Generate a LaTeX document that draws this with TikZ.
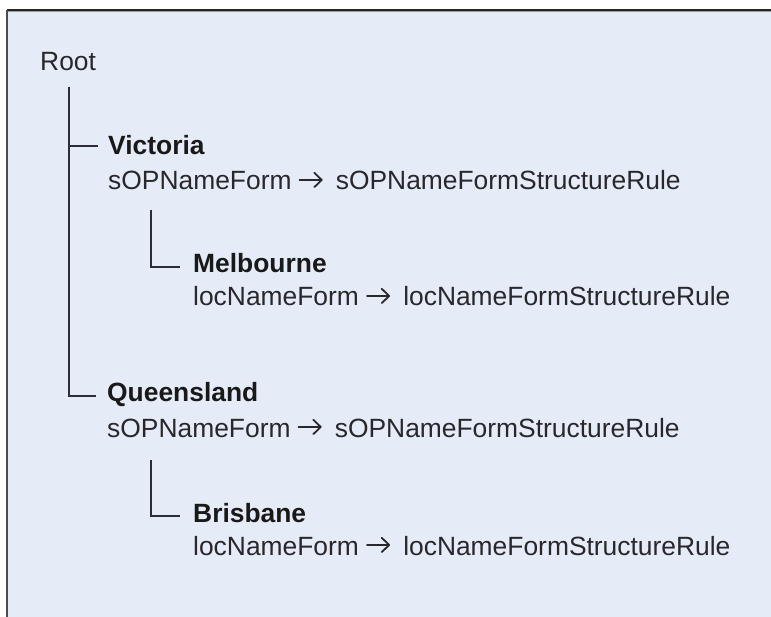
\documentclass[tikz,border=0pt]{standalone}
\usepackage{fontspec}
\setmainfont{Liberation Sans}
\definecolor{panel}{RGB}{230,236,247}
\definecolor{ink}{RGB}{40,40,44}
\definecolor{wire}{RGB}{45,45,55}
% open-headed arrow set inline with the text, with its own side bearings
\newcommand{\treearrow}{\hspace{0.27em}\tikz[baseline=0pt]{%
  \draw[ink,line width=0.068em,line cap=round,line join=round]
    (0.02em,0.38em) -- (0.84em,0.38em)
    (0.58em,0.65em) -- (0.86em,0.38em) -- (0.58em,0.11em);}\hspace{0.5em}}
\begin{document}
\begin{tikzpicture}[x=1pt,y=-1pt,
  lbl/.style={anchor=base west,inner sep=0pt,text=ink,font=\fontsize{26.4}{30}\selectfont},
  head/.style={lbl,text=black!90,font=\fontsize{26.4}{30}\selectfont\bfseries},
  branch/.style={draw=wire,line width=1.6pt}]
  % page and panel
  \fill[white] (0,0) rectangle (771,617);
  \useasboundingbox (0,0) rectangle (771,617);
  \fill[panel] (7,10) rectangle (771,617);
  \draw[black!85,line width=2pt] (7,10) -- (771,10);
  \draw[black!40,line width=0.8pt] (7,11.8) -- (771,11.8);
  \draw[black!70,line width=1.6pt] (7,10) -- (7,617);

  % labels
  \node[lbl] (root) at (40,71) {Root};
  \node[head] (vic) at (108,155) {Victoria};
  \node[lbl] (vicrule) at (108,190) {sOPNameForm\treearrow sOPNameFormStructureRule};
  \node[head] (mel) at (193,273) {Melbourne};
  \node[lbl] (melrule) at (193,306) {locNameForm\treearrow locNameFormStructureRule};
  \node[head] (qld) at (107,402) {Queensland};
  \node[lbl] (qldrule) at (107,437) {sOPNameForm\treearrow sOPNameFormStructureRule};
  \node[head] (bri) at (193,522) {Brisbane};
  \node[lbl] (brirule) at (193,555) {locNameForm\treearrow locNameFormStructureRule};

  % stems under the parent labels
  \coordinate (rootstem) at (69,87);
  \coordinate (vicstem) at (151,210);
  \coordinate (qldstem) at (151,460);

  % tree branches
  \draw[branch] (rootstem) |- ([shift={(-10,-9)}]vic.base west);
  \draw[branch] (rootstem) |- ([shift={(-11,-6)}]qld.base west);
  \draw[branch] (vicstem) |- ([shift={(-13,-6)}]mel.base west);
  \draw[branch] (qldstem) |- ([shift={(-13,-6)}]bri.base west);
\end{tikzpicture}
\end{document}
